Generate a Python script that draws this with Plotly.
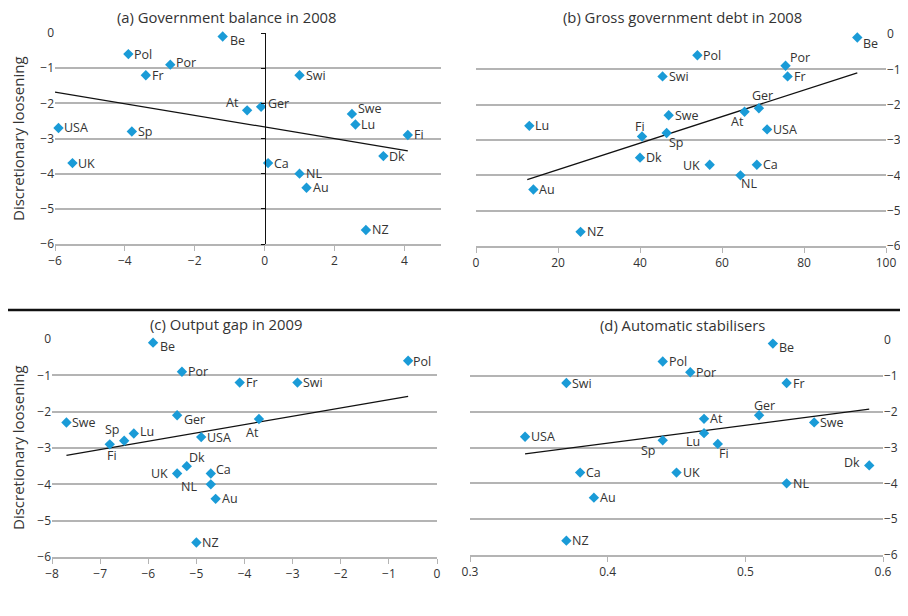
import plotly.graph_objects as go

COUNTRIES = ["Be", "Pol", "Por", "Fr", "Swi", "At", "Ger", "Swe", "Lu",
             "USA", "Sp", "Fi", "Dk", "UK", "Ca", "NL", "Au", "NZ"]

# discretionary loosening (same y for every panel)
LOOSENING = [-0.1, -0.6, -0.9, -1.2, -1.2, -2.2, -2.1, -2.3, -2.6,
             -2.7, -2.8, -2.9, -3.5, -3.7, -3.7, -4.0, -4.4, -5.6]

GOV_BALANCE_2008 = [-1.2, -3.9, -2.7, -3.4, 1.0, -0.5, -0.1, 2.5, 2.6,
                    -5.9, -3.8, 4.1, 3.4, -5.5, 0.1, 1.0, 1.2, 2.9]
GROSS_DEBT_2008 = [93, 54, 75.5, 76, 45.5, 65.5, 69, 47, 13,
                   71, 46.5, 40.5, 40, 57, 68.5, 64.5, 14, 25.5]
OUTPUT_GAP_2009 = [-5.9, -0.6, -5.3, -4.1, -2.9, -3.7, -5.4, -7.7, -6.3,
                   -4.9, -6.5, -6.8, -5.2, -5.4, -4.7, -4.7, -4.6, -5.0]
AUTO_STABILISERS = [0.52, 0.44, 0.46, 0.53, 0.37, 0.47, 0.51, 0.55, 0.47,
                    0.34, 0.44, 0.48, 0.59, 0.45, 0.38, 0.53, 0.39, 0.37]

# trend line end points (x, y)
TREND_A_X = [-6.0, 4.1]
TREND_A_Y = [-1.68, -3.35]
TREND_B_X = [12.5, 93.0]
TREND_B_Y = [-4.12, -1.1]
TREND_C_X = [-7.7, -0.6]
TREND_C_Y = [-3.2, -1.58]
TREND_D_X = [0.34, 0.59]
TREND_D_Y = [-3.18, -1.93]

TITLES = ["(a) Government balance in 2008", "(b) Gross government debt in 2008",
          "(c) Output gap in 2009", "(d) Automatic stabilisers"]

BLUE = "#1a9bd7"
GRID = "#b4b4b4"
TEXT = "#333333"
FONT = "Open Sans, Noto Sans, Arial, sans-serif"

# page body has an 8px margin, so the figure starts at (8, 8) of the window
OFF = 8
FIG_W, FIG_H = 908 - OFF, 616 - OFF

# label placement: (anchor, dx, dy) in pixels, dy positive = down
DEFAULT_LABEL = ("left", 4, 0)
LABEL_STYLE = {
    "a": {"Be": ("left", 5, 4), "Por": ("left", 4, -2), "At": ("right", -6, -8),
          "Swe": ("left", 4, -5), "Ger": ("left", 5, -3)},
    "b": {"Be": ("left", 4, 6), "Por": ("left", 2, -8), "Ger": ("center", 4, -13),
          "At": ("center", -7, 10), "Fi": ("center", -2, -10), "Sp": ("center", 10, 10),
          "UK": ("right", -8, 1), "NL": ("center", 9, 8)},
    "c": {"Be": ("left", 5, 4), "Pol": ("left", 3, 1), "Ger": ("left", 5, 4),
          "At": ("center", -6, 14), "Lu": ("left", 4, -2), "Sp": ("center", -12, -11),
          "Fi": ("center", 2, 11), "Dk": ("center", 10, -9), "UK": ("right", -7, 0),
          "Ca": ("left", 3, -4), "NL": ("right", -12, 2)},
    "d": {"Be": ("left", 4, 4), "Ger": ("center", 5, -10), "Sp": ("center", -14, 10),
          "Lu": ("center", -11, 8), "Fi": ("center", 6, 10), "Dk": ("right", -7, -3)},
}

fig = go.Figure()

panels = [
    ("a", GOV_BALANCE_2008, TREND_A_X, TREND_A_Y, "x", "y"),
    ("b", GROSS_DEBT_2008, TREND_B_X, TREND_B_Y, "x2", "y2"),
    ("c", OUTPUT_GAP_2009, TREND_C_X, TREND_C_Y, "x3", "y3"),
    ("d", AUTO_STABILISERS, TREND_D_X, TREND_D_Y, "x4", "y4"),
]

for key, xs, tx, ty, xa, ya in panels:
    fig.add_trace(go.Scatter(
        x=tx, y=ty, mode="lines", xaxis=xa, yaxis=ya,
        line={"color": "#111111", "width": 1.3}, hoverinfo="skip",
    ))
    fig.add_trace(go.Scatter(
        x=xs, y=LOOSENING, mode="markers", text=COUNTRIES, xaxis=xa, yaxis=ya,
        marker={"symbol": "diamond", "size": 8, "color": BLUE},
        cliponaxis=False,
    ))
    for name, xv, yv in zip(COUNTRIES, xs, LOOSENING):
        anchor, dx, dy = LABEL_STYLE[key].get(name, DEFAULT_LABEL)
        fig.add_annotation(
            x=xv, y=yv, xref=xa, yref=ya, text=name, showarrow=False,
            xanchor=anchor, yanchor="middle", xshift=dx, yshift=-dy,
            font={"size": 12.5, "color": TEXT, "family": FONT},
        )

# empty trace so the black x = 0 axis of panel (a) is drawn
fig.add_trace(go.Scatter(x=[None], y=[None], xaxis="x", yaxis="y5", hoverinfo="skip"))


def px_x(a, b):
    return [(a - OFF) / FIG_W, (b - OFF) / FIG_W]


def px_y(top, bottom):
    return [1 - (bottom - OFF) / FIG_H, 1 - (top - OFF) / FIG_H]


xcommon = dict(showgrid=False, zeroline=False, showline=True, linecolor=GRID, linewidth=1.5,
               ticks="outside", ticklen=5, tickcolor=GRID, automargin=False,
               tickfont={"size": 12, "color": TEXT, "family": FONT})
ycommon = dict(showgrid=True, gridcolor=GRID, gridwidth=1.5, zeroline=False,
               showline=False, dtick=1, range=[-6, 0], automargin=False,
               tickfont={"size": 12, "color": TEXT, "family": FONT})

fig.update_layout(
    template="none",
    width=FIG_W, height=FIG_H,
    margin={"l": 0, "r": 0, "t": 0, "b": 0, "pad": 0},
    paper_bgcolor="white", plot_bgcolor="white",
    showlegend=False,
    font={"family": FONT, "color": TEXT},
    xaxis=dict(xcommon, domain=px_x(55, 441), range=[-6, 5.05], tickvals=[-6, -4, -2, 0, 2, 4], anchor="y"),
    yaxis=dict(ycommon, domain=px_y(33, 244), anchor="x", side="left"),
    xaxis2=dict(xcommon, domain=px_x(476, 886), range=[0, 100], dtick=20, anchor="y2"),
    yaxis2=dict(ycommon, domain=px_y(34, 246), anchor="x2", side="right"),
    xaxis3=dict(xcommon, domain=px_x(52, 437), range=[-8, 0], dtick=1, anchor="y3"),
    yaxis3=dict(ycommon, domain=px_y(339, 557), anchor="x3", side="left"),
    xaxis4=dict(xcommon, domain=px_x(470, 883), range=[0.3, 0.6], dtick=0.1, tickformat=".1f", anchor="y4"),
    yaxis4=dict(ycommon, domain=px_y(340, 555), anchor="x4", side="right"),
    # black vertical axis through x = 0 in panel (a)
    yaxis5=dict(overlaying="y", anchor="free", position=(265 - OFF) / FIG_W, range=[-6, 0], dtick=1,
                showgrid=False, zeroline=False, showline=True, linecolor="#111111", linewidth=1.3,
                ticks="outside", ticklen=4, tickcolor="#111111", showticklabels=False,
                automargin=False),
)

title_pos = [(227, 17), (682, 17), (226, 324), (682, 325)]
for title, (tx_, ty_) in zip(TITLES, title_pos):
    fig.add_annotation(text=title, x=(tx_ - OFF) / FIG_W, y=1 - (ty_ - OFF) / FIG_H,
                       xref="paper", yref="paper", showarrow=False,
                       xanchor="center", yanchor="middle",
                       font={"size": 14.8, "color": TEXT, "family": FONT})

for cy in (139, 448):
    fig.add_annotation(text="Discretionary loosening", x=(18 - OFF) / FIG_W, y=1 - (cy - OFF) / FIG_H,
                       xref="paper", yref="paper", showarrow=False, textangle=-90,
                       xanchor="center", yanchor="middle",
                       font={"size": 15, "color": TEXT, "family": FONT})

fig.add_shape(type="line", xref="paper", yref="paper", x0=0, x1=1,
              y0=1 - (310 - OFF) / FIG_H, y1=1 - (310 - OFF) / FIG_H,
              line={"color": "#111111", "width": 2.5})

fig.write_html("out.html")
